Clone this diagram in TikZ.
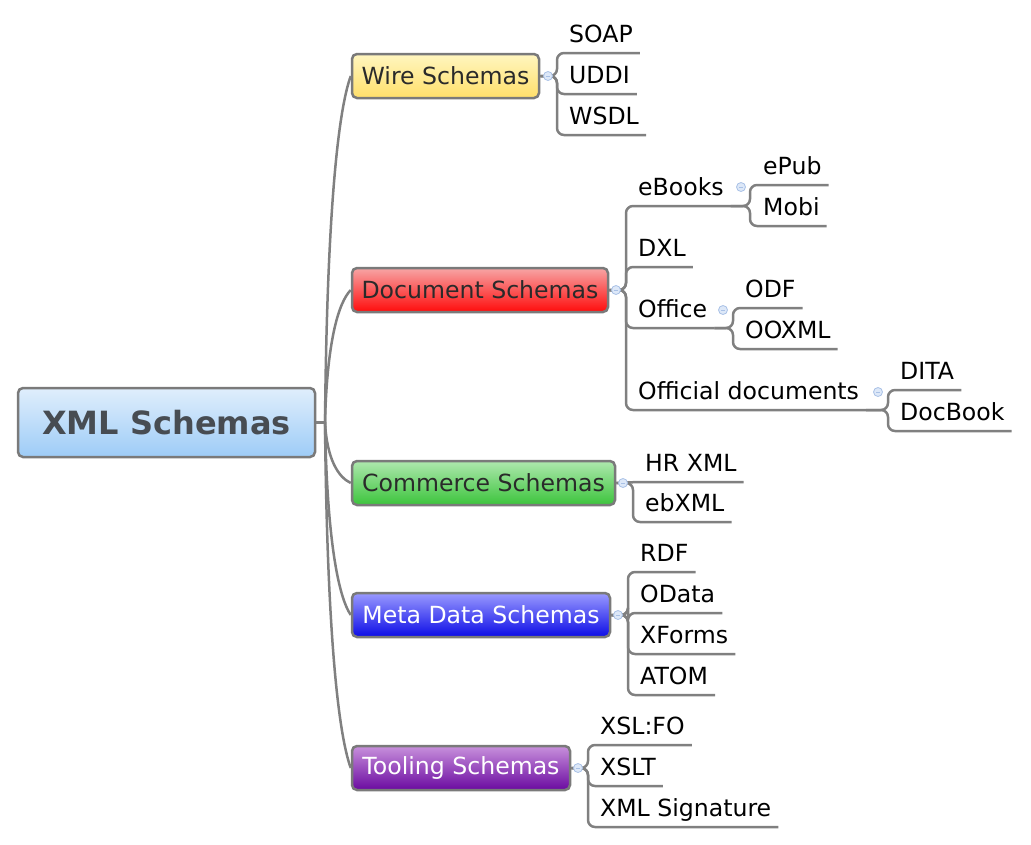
\documentclass[tikz,border=0pt]{standalone}
\usepackage{fontspec}
\setmainfont{DejaVu Sans}
\definecolor{bordergray}{HTML}{7A7A7A}
\definecolor{linegray}{HTML}{808080}
\definecolor{togglering}{HTML}{A9C1E6}
\definecolor{togglefill}{HTML}{DDE8F8}
\definecolor{roottext}{HTML}{474C52}
\definecolor{topictext}{HTML}{2A2A2A}
\begin{document}
\begin{tikzpicture}[x=1pt,y=-1pt,
  every node/.style={font=\fontsize{23.6}{28}\selectfont},
  topic/.style={draw=bordergray, line width=2.5pt, rounded corners=5pt, inner sep=0pt, minimum height=44pt, text=topictext},
  rootbox/.style={topic, minimum height=69pt, minimum width=297pt, top color=rootTop, bottom color=rootBot, text=roottext, font=\fontsize{32}{36}\selectfont\bfseries},
  leaf/.style={anchor=south west, inner xsep=7pt, inner ysep=5pt, text height=17pt, text depth=5pt, text=black},
  conn/.style={draw=linegray, line width=2.5pt},
  bracket/.style={conn, rounded corners=7pt},
  toggle/.style={circle, draw=togglering, fill=togglefill, line width=0.8pt, minimum size=9pt, inner sep=0pt,
    path picture={\draw[togglering, line width=0.8pt] ([xshift=-2.2pt]path picture bounding box.center) -- ([xshift=2.2pt]path picture bounding box.center);}}
]
\definecolor{rootTop}{HTML}{E0EEFC}\definecolor{rootBot}{HTML}{9DCCF7}
\useasboundingbox (0,0) rectangle (1031,844);

% main topics
\node[rootbox] (root) at (166.5,422.5) {XML Schemas};
\node[topic, minimum width=187pt, top color={rgb,255:red,255;green,246;blue,192}, bottom color={rgb,255:red,255;green,223;blue,106}] (wire) at (445.5,76) {Wire Schemas};
\node[topic, minimum width=256pt, top color={rgb,255:red,247;green,165;blue,165}, bottom color={rgb,255:red,255;green,12;blue,12}] (doc) at (480,290) {Document Schemas};
\node[topic, minimum width=263pt, top color={rgb,255:red,174;green,232;blue,174}, bottom color={rgb,255:red,60;green,196;blue,60}] (com) at (483.5,483) {Commerce Schemas};
\node[topic, minimum width=258pt, text=white, top color={rgb,255:red,154;green,154;blue,255}, bottom color={rgb,255:red,12;green,12;blue,230}] (meta) at (481,615) {Meta Data Schemas};
\node[topic, minimum width=218pt, text=white, top color={rgb,255:red,200;green,144;blue,220}, bottom color={rgb,255:red,106;green,10;blue,160}] (tool) at (461,768) {Tooling Schemas};

% leaves
\node[leaf] (soap) at (562,53) {SOAP};
\node[leaf] (uddi) at (562,94) {UDDI};
\node[leaf] (wsdl) at (562,135) {WSDL};

\node[leaf] (ebooks) at (631,206) {eBooks};
\node[leaf] (dxl) at (631,267) {DXL};
\node[leaf] (office) at (631,328) {Office};
\node[leaf] (official) at (631,410) {Official documents};
\node[leaf] (epub) at (756,185) {ePub};
\node[leaf] (mobi) at (756,226) {Mobi};
\node[leaf] (odf) at (738,308) {ODF};
\node[leaf] (ooxml) at (738,349) {OOXML};
\node[leaf] (dita) at (893,390) {DITA};
\node[leaf] (docbook) at (893,431) {DocBook};

\node[leaf] (hrxml) at (638,482) {HR XML};
\node[leaf] (ebxml) at (638,522) {ebXML};

\node[leaf] (rdf) at (633,572) {RDF};
\node[leaf] (odata) at (633,613) {OData};
\node[leaf] (xforms) at (633,654) {XForms};
\node[leaf] (atom) at (633,695) {ATOM};

\node[leaf] (xslfo) at (593,745) {XSL:FO};
\node[leaf] (xslt) at (593,786) {XSLT};
\node[leaf] (xmlsig) at (593,827) {XML Signature};

% trunk
\draw[conn] (root.east) -- (325,422.5) coordinate (tj);
\draw[conn] (tj) .. controls (327,214) and (338,111) .. (wire.west);
\draw[conn] (tj) .. controls (327,343) and (338,303) .. (doc.west);
\draw[conn] (tj) .. controls (327,459) and (338,477) .. (com.west);
\draw[conn] (tj) .. controls (327,538) and (338,596) .. (meta.west);
\draw[conn] (tj) .. controls (327,630) and (338,733) .. (tool.west);

% brackets
\foreach \l in {soap,uddi,wsdl} \draw[bracket] (wire.east) -- (557,76) |- (\l.south east);
\foreach \l in {ebooks,dxl,office,official} \draw[bracket] (doc.east) -- (626,290) |- (\l.south east);
\foreach \l in {epub,mobi} \draw[bracket] (ebooks.south east) -- (750,206) |- (\l.south east);
\foreach \l in {odf,ooxml} \draw[bracket] (office.south east) -- (733,328) |- (\l.south east);
\foreach \l in {dita,docbook} \draw[bracket] (official.south east) -- (888,410) |- (\l.south east);
\draw[conn] (com.east) -- (hrxml.south west) -- (hrxml.south east);
\draw[bracket] (com.east) -- (633,483) |- (ebxml.south east);
\foreach \l in {rdf,odata,xforms,atom} \draw[bracket] (meta.east) -- (628,615) |- (\l.south east);
\foreach \l in {xslfo,xslt,xmlsig} \draw[bracket] (tool.east) -- (588,768) |- (\l.south east);

% toggles
\node[toggle] (t1) at (548,76) {};
\node[toggle] (t2) at (616,290) {};
\node[toggle] (t3) at (623,483) {};
\node[toggle] (t4) at (618,615) {};
\node[toggle] (t5) at (578,768) {};
\node[toggle] (t6) at (741,187) {};
\node[toggle] (t7) at (723,310) {};
\node[toggle] (t8) at (878,392) {};
\end{tikzpicture}
\end{document}
